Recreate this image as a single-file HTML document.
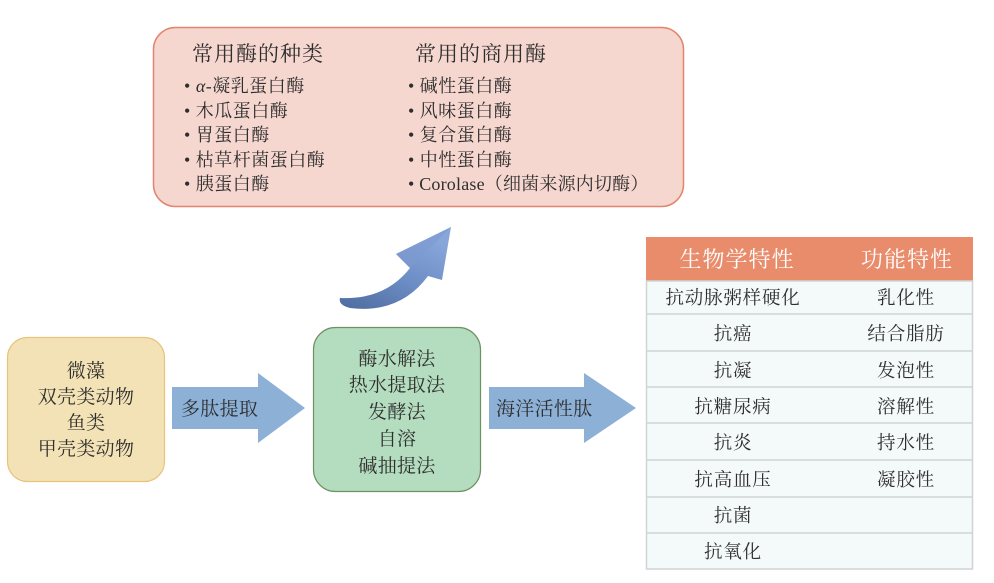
<!DOCTYPE html>
<html>
<head>
<meta charset="utf-8">
<style>
  html,body{margin:0;padding:0;background:#fff;}
  body{width:994px;height:583px;position:relative;overflow:hidden;
    font-family:"Liberation Serif","Noto Serif CJK SC","Noto Sans CJK SC",serif;color:#2e2e2e;}
  .t{position:absolute;white-space:nowrap;line-height:1;}
  .c{transform:translateX(-50%);}
  .h{font-size:21px;letter-spacing:1px;}
  .i{font-size:18px;letter-spacing:0.5px;}
  .b{font-size:19px;letter-spacing:0.3px;}
  .th{font-size:22px;color:#fff;letter-spacing:1px;}
  .td{font-size:18.5px;letter-spacing:0.8px;}
</style>
</head>
<body>
<svg width="994" height="583" style="position:absolute;left:0;top:0">
  <defs>
    <linearGradient id="ga" x1="0" y1="1" x2="0.6" y2="0">
      <stop offset="0" stop-color="#4d6c9e"/>
      <stop offset="0.5" stop-color="#6b8cc4"/>
      <stop offset="1" stop-color="#88a6da"/>
    </linearGradient>
  </defs>
  <rect x="153.5" y="27.5" width="530" height="179" rx="22" fill="#f6d7d0" stroke="#e2846e" stroke-width="1.5"/>
  <rect x="7.5" y="337.5" width="157" height="144" rx="20" fill="#f3e2b5" stroke="#e9c27c" stroke-width="1.2"/>
  <rect x="313.5" y="327.5" width="167" height="164" rx="22" fill="#b4dcbf" stroke="#6f9060" stroke-width="1.2"/>
  <polygon points="172,387 258,387 258,373 305,408 258,443 258,429 172,429" fill="#8cb0d6"/>
  <polygon points="489,387 584,387 584,373 636,408 584,443 584,429 489,429" fill="#8cb0d6"/>
  <path d="M 340 298 Q 385 300 410 268 L 396 254 L 451 227 L 442 280 L 428 276 Q 400 314 350 308 Q 338 305 340 298 Z" fill="url(#ga)"/>
  <path d="M 396 254 L 451 227 L 410 268 Z" fill="#7d9bd0" opacity="0.6"/>
  <rect x="646" y="237" width="327" height="44" fill="#e98c6c"/>
  <rect x="646.5" y="281" width="326" height="288" fill="#f4f9f9" stroke="#cfd4d4" stroke-width="1.5"/>
  <g stroke="#cfd4d4" stroke-width="1.5">
    <line x1="646" y1="314" x2="973" y2="314"/>
    <line x1="646" y1="351" x2="973" y2="351"/>
    <line x1="646" y1="387" x2="973" y2="387"/>
    <line x1="646" y1="423" x2="973" y2="423"/>
    <line x1="646" y1="460" x2="973" y2="460"/>
    <line x1="646" y1="497" x2="973" y2="497"/>
    <line x1="646" y1="533" x2="973" y2="533"/>
  </g>
</svg>

<div class="t h" style="left:192px;top:44px;">常用酶的种类</div>
<div class="t i" style="left:184px;top:77px;">•&nbsp;<i>α</i>-凝乳蛋白酶</div>
<div class="t i" style="left:184px;top:102px;">•&nbsp;木瓜蛋白酶</div>
<div class="t i" style="left:184px;top:126px;">•&nbsp;胃蛋白酶</div>
<div class="t i" style="left:184px;top:151px;">•&nbsp;枯草杆菌蛋白酶</div>
<div class="t i" style="left:184px;top:175px;">•&nbsp;胰蛋白酶</div>

<div class="t h" style="left:415px;top:44px;">常用的商用酶</div>
<div class="t i" style="left:408px;top:77px;">•&nbsp;碱性蛋白酶</div>
<div class="t i" style="left:408px;top:102px;">•&nbsp;风味蛋白酶</div>
<div class="t i" style="left:408px;top:126px;">•&nbsp;复合蛋白酶</div>
<div class="t i" style="left:408px;top:151px;">•&nbsp;中性蛋白酶</div>
<div class="t i" style="left:408px;top:175px;letter-spacing:0.2px;">•&nbsp;Corolase（细菌来源内切酶）</div>

<div class="t b c" style="left:86px;top:362px;">微藻</div>
<div class="t b c" style="left:86px;top:388px;">双壳类动物</div>
<div class="t b c" style="left:86px;top:414px;">鱼类</div>
<div class="t b c" style="left:86px;top:440px;">甲壳类动物</div>

<div class="t b" style="left:181px;top:400px;">多肽提取</div>
<div class="t b" style="left:496px;top:400px;">海洋活性肽</div>

<div class="t b c" style="left:397px;top:350px;">酶水解法</div>
<div class="t b c" style="left:397px;top:376px;">热水提取法</div>
<div class="t b c" style="left:397px;top:403px;">发酵法</div>
<div class="t b c" style="left:397px;top:430px;">自溶</div>
<div class="t b c" style="left:397px;top:457px;">碱抽提法</div>

<div class="t th c" style="left:737px;top:249px;">生物学特性</div>
<div class="t th c" style="left:907px;top:249px;">功能特性</div>

<div class="t td c" style="left:733px;top:290px;">抗动脉粥样硬化</div>
<div class="t td c" style="left:733px;top:326px;">抗癌</div>
<div class="t td c" style="left:733px;top:363px;">抗凝</div>
<div class="t td c" style="left:733px;top:399px;">抗糖尿病</div>
<div class="t td c" style="left:733px;top:435px;">抗炎</div>
<div class="t td c" style="left:733px;top:472px;">抗高血压</div>
<div class="t td c" style="left:733px;top:508px;">抗菌</div>
<div class="t td c" style="left:733px;top:544px;">抗氧化</div>

<div class="t td c" style="left:906px;top:290px;">乳化性</div>
<div class="t td c" style="left:906px;top:326px;">结合脂肪</div>
<div class="t td c" style="left:906px;top:363px;">发泡性</div>
<div class="t td c" style="left:906px;top:399px;">溶解性</div>
<div class="t td c" style="left:906px;top:435px;">持水性</div>
<div class="t td c" style="left:906px;top:472px;">凝胶性</div>
</body>
</html>
